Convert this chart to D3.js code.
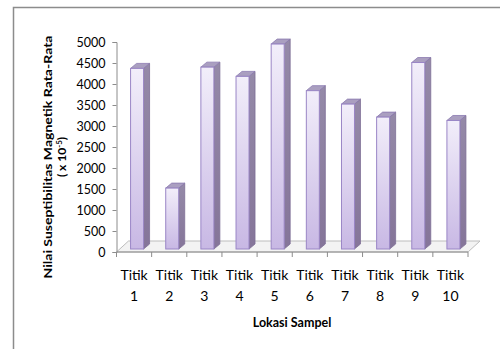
<!DOCTYPE html>
<html>
<head>
<meta charset="utf-8">
<script src="https://cdn.jsdelivr.net/npm/d3@7"></script>
<style>
  html, body { margin: 0; padding: 0; background: #fff; }
  svg { display: block; }
  text { font-family: Lato, "Open Sans", sans-serif; fill: #000; }
</style>
</head>
<body>
<svg id="chart" width="500" height="349"></svg>
<script>
// Average magnetic susceptibility per sampling point (x 10^-5)
const categories = ["Titik 1", "Titik 2", "Titik 3", "Titik 4", "Titik 5",
                    "Titik 6", "Titik 7", "Titik 8", "Titik 9", "Titik 10"];
const values = [4300, 1450, 4330, 4110, 4880, 3770, 3450, 3140, 4440, 3060];
const yTicks = [0, 500, 1000, 1500, 2000, 2500, 3000, 3500, 4000, 4500, 5000];
const yTitle = "Nilai Suseptibilitas Magnetik Rata-Rata";
const xTitle = "Lokasi Sampel";

const svg = d3.select("#chart");

// outer chart frame
svg.append("rect")
  .attr("x", 13.5).attr("y", 7.5)
  .attr("width", 600).attr("height", 600)
  .attr("fill", "#fff").attr("stroke", "#8c8c8c").attr("stroke-width", 1.5);

const x = d3.scaleBand().domain(categories).range([116.5, 468]).padding(0);
const y = d3.scaleLinear().domain([0, 5000]).range([252, 42]);

// 3D offsets
const depth = { dx: 12, dy: -11 };      // floor depth
const barShift = { dx: 3, dy: -3 };     // bars sit inside the floor
const side = { dx: 6, dy: -5 };         // bar side/top depth
const barW = 13;

const defs = svg.append("defs");
const grad = defs.append("linearGradient").attr("id", "front")
  .attr("x1", 0).attr("y1", 0).attr("x2", 0).attr("y2", 1);
grad.append("stop").attr("offset", "0%").attr("stop-color", "#f2eefa");
grad.append("stop").attr("offset", "100%").attr("stop-color", "#c8b8e4");

const sideGrad = defs.append("linearGradient").attr("id", "side")
  .attr("x1", 0).attr("y1", 0).attr("x2", 0).attr("y2", 1);
sideGrad.append("stop").attr("offset", "0%").attr("stop-color", "#958aa8");
sideGrad.append("stop").attr("offset", "100%").attr("stop-color", "#857599");

// floor
const x0 = x.range()[0], x1 = x.range()[1], y0 = y(0);
svg.append("path")
  .attr("d", `M${x0},${y0} L${x1},${y0} L${x1 + depth.dx},${y0 + depth.dy} L${x0 + depth.dx},${y0 + depth.dy} Z`)
  .attr("fill", "#f3f3f3").attr("stroke", "#bdbdbd").attr("stroke-width", 1);

// bars
const bars = svg.append("g").selectAll("g").data(categories).join("g");
bars.each(function(c, i) {
  const g = d3.select(this);
  const left = x(c) + (x.bandwidth() - barW) / 2 + barShift.dx;
  const right = left + barW;
  const top = y(values[i]) + barShift.dy;
  const bottom = y(0) + barShift.dy;
  // side face
  g.append("path")
    .attr("d", `M${right},${top} L${right + side.dx},${top + side.dy} L${right + side.dx},${bottom + side.dy} L${right},${bottom} Z`)
    .attr("fill", "url(#side)").attr("stroke", "#7d6e96").attr("stroke-width", 0.8);
  // top face
  g.append("path")
    .attr("d", `M${left},${top} L${left + side.dx},${top + side.dy} L${right + side.dx},${top + side.dy} L${right},${top} Z`)
    .attr("fill", "#aa9fc0").attr("stroke", "#8a78b0").attr("stroke-width", 0.8);
  // front face
  g.append("rect")
    .attr("x", left).attr("y", top)
    .attr("width", barW).attr("height", bottom - top)
    .attr("fill", "url(#front)").attr("stroke", "#9a86c6").attr("stroke-width", 1);
});

// y axis
const yAxis = svg.append("g").attr("transform", `translate(${x0},0)`)
  .call(d3.axisLeft(y).tickValues(yTicks).tickSize(4).tickPadding(7).tickFormat(d3.format("d")));
yAxis.select(".domain").attr("stroke", "#8c8c8c");
yAxis.selectAll(".tick line").attr("stroke", "#8c8c8c");
yAxis.selectAll(".tick text").attr("font-size", 12.5).attr("font-family", "Lato, sans-serif").attr("fill", "#000");

// x axis (ticks between categories)
const xAxisG = svg.append("g");
xAxisG.append("line").attr("x1", x0).attr("x2", x1).attr("y1", y0).attr("y2", y0)
  .attr("stroke", "#8c8c8c");
xAxisG.selectAll("line.tk").data(d3.range(categories.length + 1)).join("line")
  .attr("class", "tk")
  .attr("x1", i => x0 + i * x.step()).attr("x2", i => x0 + i * x.step())
  .attr("y1", y0).attr("y2", y0 + 5).attr("stroke", "#8c8c8c");
const lbl = xAxisG.selectAll("text").data(categories).join("text")
  .attr("text-anchor", "middle").attr("font-size", 14);
lbl.each(function(c) {
  const t = d3.select(this);
  const cx = x(c) + x.bandwidth() / 2;
  const parts = c.split(" ");
  t.append("tspan").attr("x", cx).attr("y", 280).text(parts[0]);
  t.append("tspan").attr("x", cx).attr("y", 301).text(parts[1]);
});

// axis titles
svg.append("text")
  .attr("transform", "translate(52,157) rotate(-90)")
  .attr("text-anchor", "middle").attr("font-size", 11.5).attr("font-weight", "bold")
  .attr("textLength", 243).attr("lengthAdjust", "spacingAndGlyphs")
  .text(yTitle);
const sub = svg.append("text")
  .attr("transform", "translate(66,157) rotate(-90)")
  .attr("text-anchor", "middle").attr("font-size", 12).attr("font-weight", "bold");
sub.append("tspan").text("( x 10");
sub.append("tspan").attr("dy", -4).attr("font-size", 8).text("-5");
sub.append("tspan").attr("dy", 4).text(")");

svg.append("text")
  .attr("x", 292).attr("y", 327)
  .attr("text-anchor", "middle").attr("font-size", 12.5).attr("font-weight", "bold")
  .text(xTitle);
</script>
</body>
</html>
